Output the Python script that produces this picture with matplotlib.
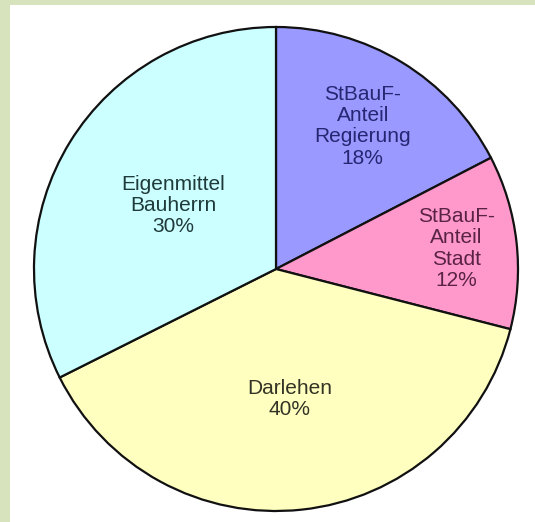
import numpy as np
import matplotlib
matplotlib.use('Agg')
import matplotlib.pyplot as plt
from matplotlib.patches import Rectangle

# wedge shares as drawn, and the percentages printed on the chart
names = ['StBauF-\nAnteil\nRegierung', 'StBauF-\nAnteil\nStadt', 'Darlehen', 'Eigenmittel\nBauherrn']
shares = [17.4, 11.6, 38.6, 32.4]
pct_labels = ['18%', '12%', '40%', '30%']

colors = ['#9999ff', '#ff99cc', '#ffffc0', '#ccffff']
text_colors = ['#262673', '#5a2244', '#333326', '#1f3a3a']
label_dist = [0.69, 0.75, 0.54, 0.5]

plt.rcParams['font.family'] = ['Liberation Sans', 'DejaVu Sans']

fig = plt.figure(figsize=(5.35, 5.22), dpi=100, facecolor='white')
fig.patches.append(Rectangle((0, 0), 10 / 535, 1, transform=fig.transFigure,
                             facecolor='#d7e3bd', edgecolor='none', zorder=0))
fig.patches.append(Rectangle((0, 1 - 5 / 522), 1, 5 / 522, transform=fig.transFigure,
                             facecolor='#d7e3bd', edgecolor='none', zorder=0))

ax = fig.add_axes([34 / 535, 11 / 522, 484 / 535, 484 / 522])
wedges, _ = ax.pie(shares, colors=colors, startangle=90, counterclock=False,
                   wedgeprops=dict(edgecolor='#111111', linewidth=1.6))
for w in wedges:
    w.set_clip_on(False)

# put each label on the wedge bisector
total = sum(shares)
start = 90.0
for i, s in enumerate(shares):
    mid = np.deg2rad(start - s / total * 360 / 2)
    start -= s / total * 360
    r = label_dist[i]
    ax.text(r * np.cos(mid), r * np.sin(mid), names[i] + '\n' + pct_labels[i],
            ha='center', va='center', fontsize=15, linespacing=1.15,
            color=text_colors[i])

ax.set_xlim(-1, 1)
ax.set_ylim(-1, 1)
ax.set_aspect('equal')
ax.axis('off')

fig.savefig('out.png', dpi=100, facecolor=fig.get_facecolor())
